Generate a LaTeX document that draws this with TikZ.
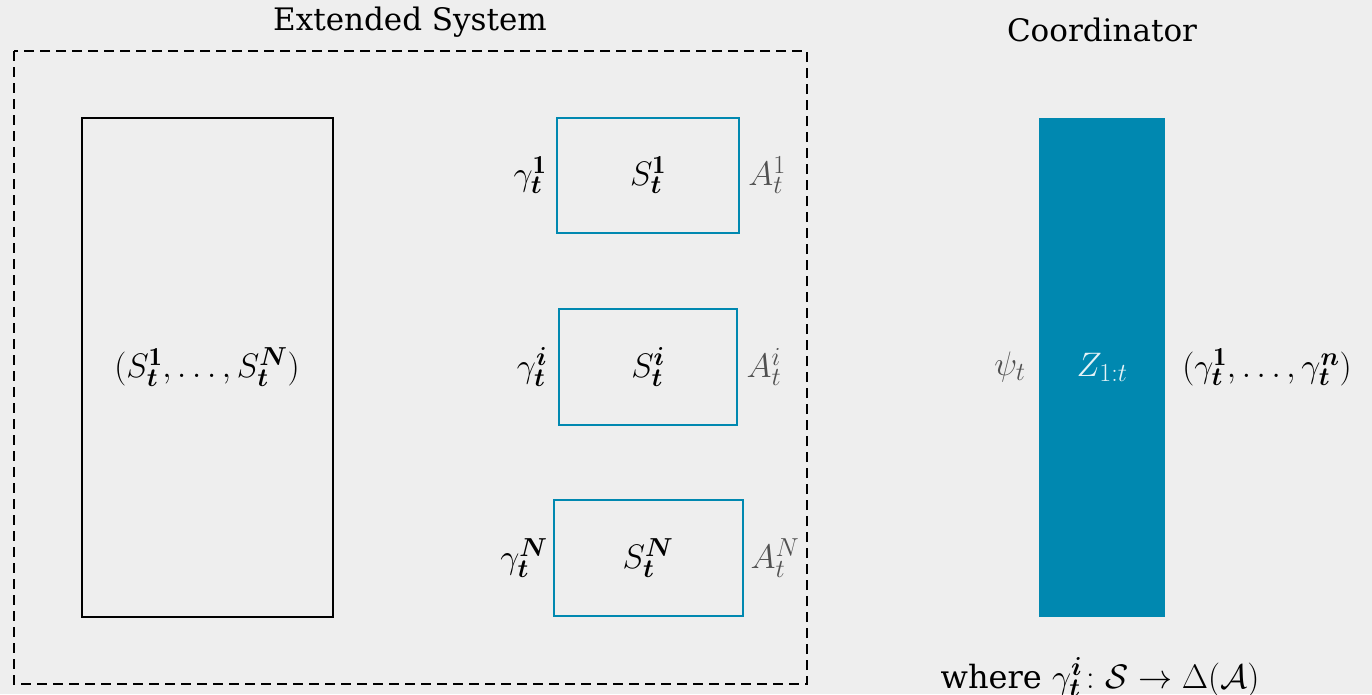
\RequirePackage{fix-cm}
\documentclass[tikz,border=0pt]{standalone}
\usepackage{amsmath,bm}
\usepackage{fontspec}
\newfontfamily\titlefont{DejaVu Serif}
\DeclareMathSizes{34}{34}{26}{20}
\definecolor{bg}{HTML}{EEEEEE}
\definecolor{tealb}{HTML}{0088B0}
\definecolor{grayt}{HTML}{505050}
\tikzset{
  sysbox/.style={draw=tealb, line width=2.2pt},
  lbl/.style={inner sep=0pt, anchor=center, font=\fontsize{34}{40}\selectfont},
  ttl/.style={inner sep=0pt, anchor=center, font=\titlefont\fontsize{31}{38}\selectfont},
  glbl/.style={lbl, text=grayt},
}
\newcommand{\bt}{\bm{t}}
\begin{document}
\begin{tikzpicture}[x=1pt,y=-1pt]
\fill[bg] (0,0) rectangle (1372,694);
\useasboundingbox (0,0) rectangle (1372,694);
% outer dashed frame
\draw[line width=2.2pt, dash pattern=on 10pt off 6pt] (14,51) rectangle (807,684);
\node[ttl] (ext) at (410,22) {Extended System};
\node[ttl] (coord) at (1102,30) {Coordinator};
% left big box
\draw[line width=2.4pt] (82,118) rectangle (333,617);
\node[lbl] (all) at (207,367) {$(S^{\mathbf{1}}_{\bt},\ldots,S^{\bm{N}}_{\bt})$};
% agent boxes
\draw[sysbox] (557,118) rectangle (739,233);
\draw[sysbox] (559,309) rectangle (737,425);
\draw[sysbox] (554,500) rectangle (743,616);
\node[lbl] (s1) at (648,175) {$S^{\mathbf{1}}_{\bt}$};
\node[lbl] (si) at (648,367) {$S^{\bm{i}}_{\bt}$};
\node[lbl] (sN) at (648,558) {$S^{\bm{N}}_{\bt}$};
\node[lbl] (g1) at (530,175) {$\gamma^{\mathbf{1}}_{\bt}$};
\node[lbl] (gi) at (532,367) {$\gamma^{\bm{i}}_{\bt}$};
\node[lbl] (gN) at (524,558) {$\gamma^{\bm{N}}_{\bt}$};
\node[glbl] (a1) at (767,175) {$A^{1}_{t}$};
\node[glbl] (ai) at (764,367) {$A^{i}_{t}$};
\node[glbl] (aN) at (775,558) {$A^{N}_{t}$};
% coordinator
\fill[tealb] (1039,118) rectangle (1165,617);
\node[lbl, text=white!90!tealb] (z) at (1102,367) {$Z_{1:t}$};
\node[glbl] (psi) at (1010,367) {$\psi_{t}$};
\node[lbl] (gam) at (1267,367) {$(\gamma^{\mathbf{1}}_{\bt},\ldots,\gamma^{\bm{n}}_{\bt})$};
\node[lbl, anchor=base] (where) at (1100,688) {{\titlefont\fontsize{32}{38}\selectfont where} $\gamma^{\bm{i}}_{\bt}\colon \mathcal{S}\to\Delta(\mathcal{A})$};
\end{tikzpicture}
\end{document}
